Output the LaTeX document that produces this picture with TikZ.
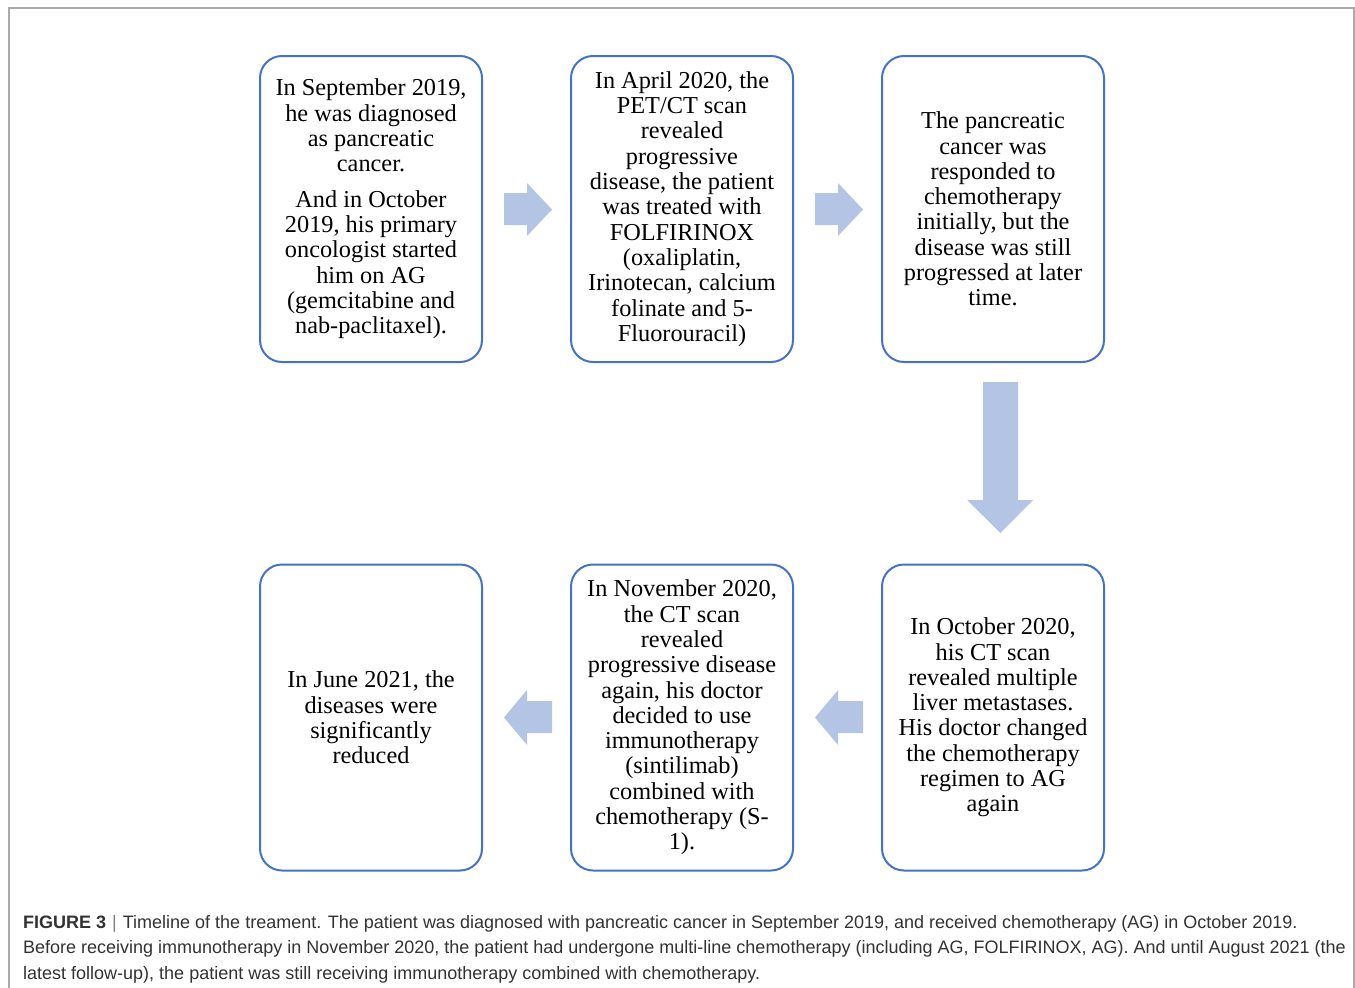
\documentclass[tikz,border=0pt]{standalone}
\usepackage{fontspec}
\setmainfont{Liberation Serif}
\newfontfamily\capfont{Liberation Sans}
\definecolor{boxblue}{RGB}{68,114,196}
\definecolor{arrowblue}{RGB}{180,196,228}
\definecolor{framegray}{RGB}{170,170,170}
\definecolor{captext}{RGB}{50,50,50}
\begin{document}
\begin{tikzpicture}[x=1pt,y=-1pt,
  stagebox/.style={draw=boxblue, line width=2pt, rounded corners=22pt,
    minimum width=222pt, minimum height=306pt, inner sep=0pt,
    align=center, font=\fontsize{24.3}{25.3}\selectfont},
  blockarrow/.style={fill=arrowblue, draw=none},
  captionline/.style={anchor=base west, inner sep=0pt, text=captext,
    font=\capfont\fontsize{18}{20}\selectfont}]
\useasboundingbox (0,0) rectangle (1355,988);
\draw[framegray, line width=1.4pt] (9,988) -- (9,8) -- (1354,8) -- (1354,988);

% top row
\node[stagebox] (b1) at (371,209) {In September 2019,\\he was diagnosed\\as pancreatic\\cancer.\\[10pt]And in October\\2019, his primary\\oncologist started\\him on AG\\(gemcitabine and\\nab-paclitaxel).};
\node[stagebox] (b2) at (682,209) {In April 2020, the\\PET/CT scan\\revealed\\progressive\\disease, the patient\\was treated with\\FOLFIRINOX\\(oxaliplatin,\\Irinotecan, calcium\\folinate and 5-\\Fluorouracil)};
\node[stagebox] (b3) at (993,209) {The pancreatic\\cancer was\\responded to\\chemotherapy\\initially, but the\\disease was still\\progressed at later\\time.};

% bottom row
\node[stagebox] (b4) at (371,717.5) {In June 2021, the\\diseases were\\significantly\\reduced};
\node[stagebox] (b5) at (682,717.5) {In November 2020,\\the CT scan\\revealed\\progressive disease\\again, his doctor\\decided to use\\immunotherapy\\(sintilimab)\\combined with\\chemotherapy (S-\\1).};
\node[stagebox] (b6) at (993,717.5) {In October 2020,\\his CT scan\\revealed multiple\\liver metastases.\\His doctor changed\\the chemotherapy\\regimen to AG\\again};

% right arrows
\fill[blockarrow] (504,193) -- (527,193) -- (527,183) -- (552,209.5) -- (527,236) -- (527,225) -- (504,225) -- cycle;
\fill[blockarrow] (815,193) -- (838,193) -- (838,183) -- (863,209.5) -- (838,236) -- (838,225) -- (815,225) -- cycle;
% down arrow
\fill[blockarrow] (983,382) -- (1018,382) -- (1018,500) -- (1033,500) -- (1000.5,533) -- (967,500) -- (983,500) -- cycle;
% left arrows
\fill[blockarrow] (863,701) -- (838,701) -- (838,690) -- (815,717.5) -- (838,745) -- (838,733) -- (863,733) -- cycle;
\fill[blockarrow] (552,701) -- (527,701) -- (527,690) -- (504,717.5) -- (527,745) -- (527,733) -- (552,733) -- cycle;

% caption
\node[captionline] (c1) at (23,928) {\textbf{FIGURE 3}\,{\color{gray}\,|\,}\,Timeline of the treament. The patient was diagnosed with pancreatic cancer in September 2019, and received chemotherapy (AG) in October 2019.};
\node[captionline] (c2) at (23,953.5) {Before receiving immunotherapy in November 2020, the patient had undergone multi-line chemotherapy (including AG, FOLFIRINOX, AG). And until August 2021 (the};
\node[captionline] (c3) at (23,979) {latest follow-up), the patient was still receiving immunotherapy combined with chemotherapy.};
\end{tikzpicture}
\end{document}
